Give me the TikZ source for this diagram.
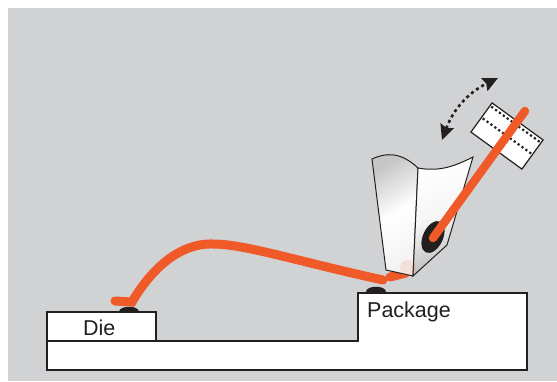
\documentclass[tikz,border=0pt]{standalone}
\usepackage{fontspec}
\setmainfont{Liberation Sans}
\usetikzlibrary{arrows.meta, calc}

\definecolor{panel}{HTML}{D1D2D4}
\definecolor{edge}{HTML}{231F20}
\definecolor{wireorange}{HTML}{F05A28}

\tikzset{
  block/.style={draw=edge, line width=2.6pt, fill=white, line join=miter},
  wire/.style={draw=wireorange, line width=9pt, line cap=round},
  partname/.style={font=\fontsize{21.5}{22}\selectfont, text=edge, inner sep=0pt, anchor=base west},
  dots/.style={edge, line width=2.2pt, dash pattern=on 2.2pt off 2.6pt},
  swing/.tip={Stealth[length=15pt, width=14pt, inset=2pt]},
}

\begin{document}
\begin{tikzpicture}[x=1pt, y=-1pt]
  \useasboundingbox (0,0) rectangle (557,381);
  \fill[panel] (8,8) rectangle (557,381);

  % substrate with the package step, die on top
  \draw[block] (47,341) -- (358,341) -- (358,293) -- (527,293) -- (527,370) -- (47,370) -- cycle;
  \draw[block] (47,312) rectangle (156,341);
  \node[partname] (die) at (83,335) {Die};
  \node[partname] (pkg) at (367,317) {Package};

  % bond pads
  \foreach \x/\y/\name in {129/312/diepad, 376/292/pkgpad} {
    \fill[edge] (\x-10,\y) .. controls (\x-10,\y-7) and (\x+10,\y-7) .. (\x+10,\y) -- cycle;
    \coordinate (\name) at (\x,\y-6);
  }

  % wire loop
  \coordinate (ball) at (115,301);
  \coordinate (heel) at (132,302);
  \coordinate (top) at (213,244);
  \coordinate (stitch) at (383,280);
  \draw[wire] (ball) -- (heel) .. controls (152,268) and (180,243) .. (top)
    .. controls (245,244) and (300,262) .. (stitch);
  \draw[wire] (390,277) -- (406,273);

  % capillary
  \coordinate (capl) at (372,159);
  \coordinate (capm) at (418,168);
  \coordinate (capr) at (473,157);
  \coordinate (capbl) at (386,270);
  \coordinate (capb) at (413,276);
  \coordinate (capbr) at (447,245);
  \draw[edge, line width=1pt, left color=gray!45, right color=gray!10, middle color=white, shading angle=30]
    (capl) .. controls (385,153) and (400,151) .. (capm) -- (capb) -- (capbl) -- cycle;
  \draw[edge, line width=1pt, left color=white, right color=gray!55, middle color=gray!8, shading angle=20]
    (capm) .. controls (440,172) and (455,166) .. (capr) -- (capbr) -- (capb) -- cycle;
  \fill[wireorange, opacity=0.12] (408,268) circle (8);
  \fill[edge, rotate around={-25:(433,237)}] (433,237) ellipse (10 and 17);

  % wire clamp
  \begin{scope}[shift={(507,136)}, rotate=-36]
    \draw[edge, fill=white, line width=1.2pt] (-31.5,-18) rectangle (31.5,18);
    \foreach \y in {-14.5, 0} {
      \draw[dots] (-30,\y) -- (30,\y);
    }
  \end{scope}
  \coordinate (feed) at (525,111);
  \draw[wire, line width=8.5pt] (433,238) -- (feed);

  % motion of the clamp
  \coordinate (swingA) at (442,140);
  \coordinate (swingB) at (498,78);
  \draw[edge, line width=2.6pt, dash pattern=on 3pt off 3.2pt, swing-swing]
    (swingA) to[bend left=22] (swingB);
\end{tikzpicture}
\end{document}
